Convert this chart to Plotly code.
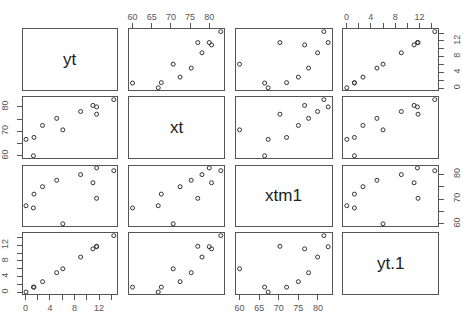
import plotly.graph_objects as go

# ---- data ----
names = ["yt", "xt", "xtm1", "yt.1"]
yt   = [0.1, 1.3, 1.4, 2.8, 5.1, 6.1, 9.0, 11.0, 11.6, 11.6, 14.4]
xt   = [66.7, 60.0, 67.5, 72.4, 75.3, 70.6, 78.1, 80.6, 80.0, 77.0, 83.0]
xtm1 = [67.3, 66.4, 72.0, 75.0, 77.6, 60.0, 79.9, 76.6, 82.6, 70.3, 81.5]
yt1  = [0.05, 1.3, 1.3, 2.7, 5.0, 6.0, 9.0, 11.1, 11.65, 11.75, 14.5]
variables = [yt, xt, xtm1, yt1]

small_ticks = [0, 2, 4, 6, 8, 10, 12, 14]
small_labels = ["0", "", "4", "", "8", "", "12", ""]
big_ticks = [60, 65, 70, 75, 80]
big_labels_x = ["60", "65", "70", "75", "80"]
big_labels_y = ["60", "", "70", "", "80"]

W, H = 463, 318
col_px = [(22.5, 117.3), (129.0, 224.3), (236.0, 331.7), (343.3, 438.3)]
row_px = [(29.3, 90.0), (97.3, 158.0), (165.7, 226.0), (233.3, 294.3)]

def rng(v):
    lo, hi = min(v), max(v)
    d = hi - lo
    return [lo - 0.04 * d, hi + 0.04 * d]

def ticks_for(idx, axis):
    if idx in (0, 3):
        return small_ticks, small_labels
    return big_ticks, (big_labels_x if axis == "x" else big_labels_y)

fig = go.Figure()
layout = {}
LINE = "#555555"
TICKFONT = dict(family="Liberation Sans, Arial, sans-serif", size=9, color="#555555")

for i in range(4):        # row -> y variable
    for j in range(4):    # col -> x variable
        k = i * 4 + j + 1
        xa = "xaxis" if k == 1 else f"xaxis{k}"
        ya = "yaxis" if k == 1 else f"yaxis{k}"
        xr = "x" if k == 1 else f"x{k}"
        yr = "y" if k == 1 else f"y{k}"
        x0, x1 = col_px[j]
        y0, y1 = row_px[i]
        xdict = dict(domain=[x0 / W, x1 / W], anchor=yr, range=rng(variables[j]),
                     showgrid=False, zeroline=False, showline=True, mirror=True,
                     linecolor=LINE, linewidth=1, ticks="", showticklabels=False)
        ydict = dict(domain=[1 - y1 / H, 1 - y0 / H], anchor=xr, range=rng(variables[i]),
                     showgrid=False, zeroline=False, showline=True, mirror=True,
                     linecolor=LINE, linewidth=1, ticks="", showticklabels=False)
        if (i == 0 and j in (1, 3)) or (i == 3 and j in (0, 2)):
            tv, tt = ticks_for(j, "x")
            xdict.update(ticks="outside", ticklen=5, tickcolor=LINE, tickwidth=1,
                         tickvals=tv, ticktext=tt, showticklabels=True,
                         tickfont=TICKFONT, side="top" if i == 0 else "bottom")
        if (j == 0 and i in (1, 3)) or (j == 3 and i in (0, 2)):
            tv, tt = ticks_for(i, "y")
            ydict.update(ticks="outside", ticklen=5, tickcolor=LINE, tickwidth=1,
                         tickvals=tv, ticktext=tt, showticklabels=True, tickangle=-90,
                         tickfont=TICKFONT, side="left" if j == 0 else "right",
                         ticklabelstandoff=5)
        layout[xa] = xdict
        layout[ya] = ydict
        if i == j:
            fig.add_trace(go.Scatter(x=[], y=[], xaxis=xr, yaxis=yr, showlegend=False))
            fig.add_annotation(text=names[i], xref=f"{xr} domain", yref=f"{yr} domain",
                               x=0.5, y=0.5, showarrow=False,
                               font=dict(family="Liberation Sans, Arial, sans-serif",
                                         size=17, color="#222222"))
        else:
            fig.add_trace(go.Scatter(x=variables[j], y=variables[i], mode="markers",
                                     xaxis=xr, yaxis=yr, showlegend=False,
                                     marker=dict(symbol="circle-open", size=4,
                                                 color="#333333",
                                                 line=dict(width=1, color="#333333"))))

fig.update_layout(width=W, height=H, margin=dict(l=0, r=0, t=0, b=0),
                  paper_bgcolor="white", plot_bgcolor="white", **layout)
fig.write_html("out.html")
